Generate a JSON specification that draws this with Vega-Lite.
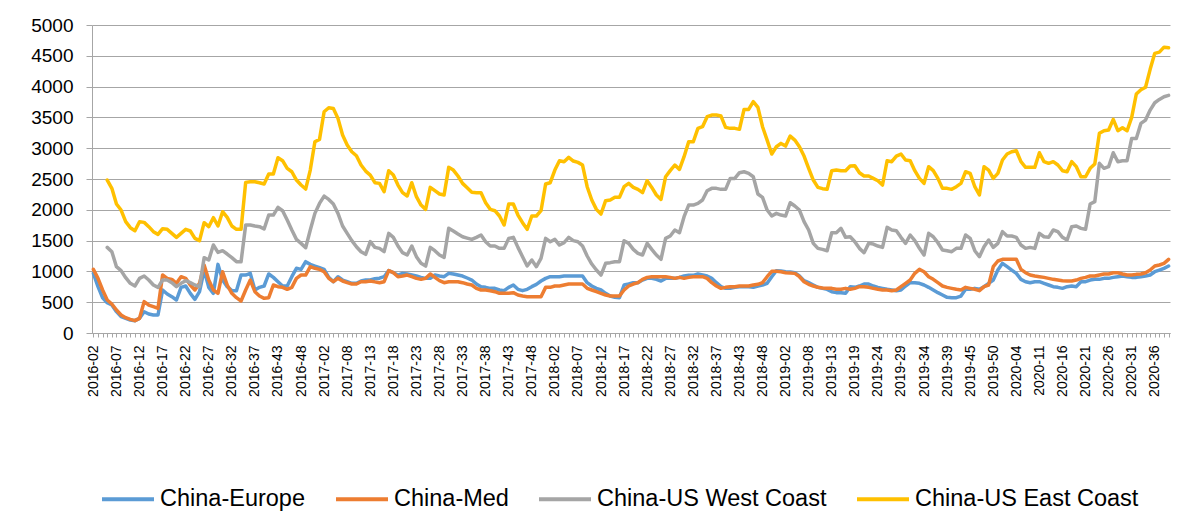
{
"$schema":"https://vega.github.io/schema/vega-lite/v6.json",
"width":1078,"height":308,
"autosize":{"type":"none"},
"padding":{"left":92,"top":25,"right":31,"bottom":197},
"background":"white",
"config":{"view":{"stroke":null},"font":"Liberation Sans"},
"data":{"values":[
{"week":"2016-02","eu":968,"med":1033,"uswc":null,"usec":null},
{"week":"2016-03","eu":752,"med":887,"uswc":null,"usec":null},
{"week":"2016-04","eu":573,"med":698,"uswc":null,"usec":null},
{"week":"2016-05","eu":492,"med":536,"uswc":1390,"usec":2483},
{"week":"2016-06","eu":454,"med":470,"uswc":1320,"usec":2348},
{"week":"2016-07","eu":346,"med":373,"uswc":1077,"usec":2094},
{"week":"2016-08","eu":265,"med":292,"uswc":1012,"usec":1996},
{"week":"2016-09","eu":238,"med":249,"uswc":898,"usec":1807},
{"week":"2016-10","eu":211,"med":222,"uswc":806,"usec":1710},
{"week":"2016-11","eu":200,"med":200,"uswc":763,"usec":1661},
{"week":"2016-12","eu":238,"med":238,"uswc":887,"usec":1807},
{"week":"2016-13","eu":346,"med":509,"uswc":925,"usec":1796},
{"week":"2016-14","eu":308,"med":454,"uswc":860,"usec":1726},
{"week":"2016-15","eu":292,"med":427,"uswc":779,"usec":1645},
{"week":"2016-16","eu":292,"med":400,"uswc":741,"usec":1601},
{"week":"2016-17","eu":698,"med":941,"uswc":860,"usec":1693},
{"week":"2016-18","eu":633,"med":887,"uswc":860,"usec":1683},
{"week":"2016-19","eu":590,"med":871,"uswc":817,"usec":1618},
{"week":"2016-20","eu":536,"med":806,"uswc":752,"usec":1553},
{"week":"2016-21","eu":741,"med":914,"uswc":806,"usec":1618},
{"week":"2016-22","eu":763,"med":887,"uswc":849,"usec":1683},
{"week":"2016-23","eu":644,"med":779,"uswc":817,"usec":1656},
{"week":"2016-24","eu":546,"med":698,"uswc":779,"usec":1536},
{"week":"2016-25","eu":671,"med":806,"uswc":752,"usec":1499},
{"week":"2016-26","eu":1022,"med":1104,"uswc":1223,"usec":1791},
{"week":"2016-27","eu":741,"med":860,"uswc":1185,"usec":1726},
{"week":"2016-28","eu":644,"med":698,"uswc":1428,"usec":1872},
{"week":"2016-29","eu":1114,"med":644,"uswc":1309,"usec":1737},
{"week":"2016-30","eu":860,"med":995,"uswc":1336,"usec":1969},
{"week":"2016-31","eu":752,"med":779,"uswc":1282,"usec":1877},
{"week":"2016-32","eu":687,"med":644,"uswc":1223,"usec":1737},
{"week":"2016-33","eu":687,"med":573,"uswc":1158,"usec":1683},
{"week":"2016-34","eu":941,"med":519,"uswc":1158,"usec":1683},
{"week":"2016-35","eu":941,"med":698,"uswc":1753,"usec":2445},
{"week":"2016-36","eu":968,"med":860,"uswc":1753,"usec":2456},
{"week":"2016-37","eu":698,"med":671,"uswc":1737,"usec":2456},
{"week":"2016-38","eu":741,"med":600,"uswc":1726,"usec":2440},
{"week":"2016-39","eu":763,"med":563,"uswc":1688,"usec":2418},
{"week":"2016-41","eu":958,"med":573,"uswc":1915,"usec":2581},
{"week":"2016-42","eu":903,"med":779,"uswc":1915,"usec":2581},
{"week":"2016-43","eu":833,"med":752,"uswc":2040,"usec":2846},
{"week":"2016-44","eu":763,"med":741,"uswc":1985,"usec":2797},
{"week":"2016-45","eu":763,"med":709,"uswc":1834,"usec":2673},
{"week":"2016-46","eu":914,"med":741,"uswc":1672,"usec":2618},
{"week":"2016-47","eu":1050,"med":887,"uswc":1520,"usec":2483},
{"week":"2016-48","eu":1033,"med":941,"uswc":1455,"usec":2402},
{"week":"2016-49","eu":1158,"med":941,"uswc":1385,"usec":2337},
{"week":"2016-50","eu":1114,"med":1077,"uswc":1672,"usec":2645},
{"week":"2016-51","eu":1087,"med":1050,"uswc":1942,"usec":3105},
{"week":"2016-52","eu":1060,"med":1033,"uswc":2104,"usec":3143},
{"week":"2017-02","eu":1033,"med":995,"uswc":2223,"usec":3592},
{"week":"2017-03","eu":903,"med":887,"uswc":2169,"usec":3657},
{"week":"2017-04","eu":833,"med":833,"uswc":2094,"usec":3646},
{"week":"2017-06","eu":914,"med":887,"uswc":1942,"usec":3484},
{"week":"2017-07","eu":860,"med":844,"uswc":1737,"usec":3214},
{"week":"2017-08","eu":833,"med":817,"uswc":1618,"usec":3051},
{"week":"2017-09","eu":806,"med":795,"uswc":1499,"usec":2943},
{"week":"2017-10","eu":806,"med":795,"uswc":1401,"usec":2878},
{"week":"2017-11","eu":844,"med":833,"uswc":1320,"usec":2727},
{"week":"2017-12","eu":860,"med":833,"uswc":1277,"usec":2629},
{"week":"2017-13","eu":860,"med":845,"uswc":1483,"usec":2564},
{"week":"2017-14","eu":880,"med":830,"uswc":1390,"usec":2440},
{"week":"2017-15","eu":890,"med":817,"uswc":1374,"usec":2429},
{"week":"2017-16","eu":914,"med":833,"uswc":1320,"usec":2294},
{"week":"2017-17","eu":1012,"med":1012,"uswc":1618,"usec":2635},
{"week":"2017-18","eu":979,"med":979,"uswc":1553,"usec":2564},
{"week":"2017-19","eu":941,"med":914,"uswc":1412,"usec":2402},
{"week":"2017-20","eu":968,"med":925,"uswc":1304,"usec":2278},
{"week":"2017-21","eu":958,"med":941,"uswc":1266,"usec":2224},
{"week":"2017-22","eu":941,"med":914,"uswc":1412,"usec":2440},
{"week":"2017-23","eu":925,"med":887,"uswc":1239,"usec":2213},
{"week":"2017-24","eu":903,"med":871,"uswc":1131,"usec":2077},
{"week":"2017-25","eu":887,"med":887,"uswc":1087,"usec":2007},
{"week":"2017-26","eu":887,"med":958,"uswc":1390,"usec":2364},
{"week":"2017-27","eu":941,"med":903,"uswc":1336,"usec":2310},
{"week":"2017-28","eu":925,"med":849,"uswc":1266,"usec":2256},
{"week":"2017-29","eu":914,"med":817,"uswc":1228,"usec":2240},
{"week":"2017-30","eu":968,"med":833,"uswc":1699,"usec":2689},
{"week":"2017-31","eu":958,"med":833,"uswc":1655,"usec":2645},
{"week":"2017-32","eu":941,"med":833,"uswc":1607,"usec":2548},
{"week":"2017-33","eu":925,"med":817,"uswc":1563,"usec":2429},
{"week":"2017-34","eu":893,"med":795,"uswc":1541,"usec":2356},
{"week":"2017-35","eu":860,"med":779,"uswc":1520,"usec":2283},
{"week":"2017-36","eu":795,"med":725,"uswc":1553,"usec":2278},
{"week":"2017-37","eu":752,"med":698,"uswc":1591,"usec":2278},
{"week":"2017-38","eu":741,"med":698,"uswc":1482,"usec":2115},
{"week":"2017-39","eu":725,"med":687,"uswc":1412,"usec":2007},
{"week":"2017-40","eu":725,"med":671,"uswc":1412,"usec":1985},
{"week":"2017-41","eu":698,"med":644,"uswc":1374,"usec":1899},
{"week":"2017-42","eu":687,"med":644,"uswc":1374,"usec":1753},
{"week":"2017-43","eu":741,"med":644,"uswc":1536,"usec":2094},
{"week":"2017-44","eu":779,"med":655,"uswc":1553,"usec":2094},
{"week":"2017-45","eu":709,"med":617,"uswc":1390,"usec":1915},
{"week":"2017-46","eu":687,"med":600,"uswc":1239,"usec":1791},
{"week":"2017-47","eu":709,"med":590,"uswc":1087,"usec":1683},
{"week":"2017-48","eu":752,"med":590,"uswc":1185,"usec":1899},
{"week":"2017-49","eu":790,"med":590,"uswc":1077,"usec":1899},
{"week":"2017-50","eu":844,"med":590,"uswc":1212,"usec":1985},
{"week":"2017-51","eu":887,"med":741,"uswc":1536,"usec":2418},
{"week":"2017-52","eu":914,"med":741,"uswc":1482,"usec":2440},
{"week":"2018-02","eu":914,"med":763,"uswc":1520,"usec":2645},
{"week":"2018-03","eu":914,"med":763,"uswc":1428,"usec":2797},
{"week":"2018-04","eu":925,"med":779,"uswc":1466,"usec":2781},
{"week":"2018-05","eu":925,"med":795,"uswc":1553,"usec":2851},
{"week":"2018-06","eu":925,"med":795,"uswc":1499,"usec":2792},
{"week":"2018-07","eu":925,"med":795,"uswc":1482,"usec":2770},
{"week":"2018-08","eu":925,"med":795,"uswc":1412,"usec":2727},
{"week":"2018-09","eu":817,"med":725,"uswc":1250,"usec":2375},
{"week":"2018-10","eu":763,"med":698,"uswc":1120,"usec":2159},
{"week":"2018-11","eu":725,"med":671,"uswc":1022,"usec":2007},
{"week":"2018-12","eu":698,"med":644,"uswc":941,"usec":1931},
{"week":"2018-13","eu":644,"med":617,"uswc":1131,"usec":2148},
{"week":"2018-14","eu":600,"med":600,"uswc":1142,"usec":2159},
{"week":"2018-15","eu":579,"med":600,"uswc":1158,"usec":2202},
{"week":"2018-16","eu":573,"med":600,"uswc":1158,"usec":2202},
{"week":"2018-17","eu":779,"med":698,"uswc":1499,"usec":2375},
{"week":"2018-18","eu":795,"med":763,"uswc":1455,"usec":2429},
{"week":"2018-19","eu":817,"med":795,"uswc":1358,"usec":2364},
{"week":"2018-20","eu":817,"med":817,"uswc":1293,"usec":2332},
{"week":"2018-21","eu":860,"med":871,"uswc":1266,"usec":2278},
{"week":"2018-22","eu":887,"med":903,"uswc":1455,"usec":2472},
{"week":"2018-23","eu":887,"med":914,"uswc":1358,"usec":2364},
{"week":"2018-24","eu":871,"med":914,"uswc":1266,"usec":2240},
{"week":"2018-25","eu":844,"med":914,"uswc":1196,"usec":2169},
{"week":"2018-26","eu":887,"med":914,"uswc":1536,"usec":2537},
{"week":"2018-27","eu":887,"med":903,"uswc":1574,"usec":2635},
{"week":"2018-28","eu":887,"med":887,"uswc":1672,"usec":2727},
{"week":"2018-29","eu":903,"med":903,"uswc":1628,"usec":2656},
{"week":"2018-30","eu":925,"med":887,"uswc":1888,"usec":2862},
{"week":"2018-31","eu":936,"med":903,"uswc":2077,"usec":3105},
{"week":"2018-32","eu":936,"med":914,"uswc":2077,"usec":3105},
{"week":"2018-33","eu":958,"med":914,"uswc":2104,"usec":3322},
{"week":"2018-34","eu":941,"med":914,"uswc":2159,"usec":3349},
{"week":"2018-35","eu":925,"med":887,"uswc":2310,"usec":3511},
{"week":"2018-36","eu":887,"med":817,"uswc":2348,"usec":3538},
{"week":"2018-37","eu":817,"med":763,"uswc":2348,"usec":3538},
{"week":"2018-38","eu":752,"med":725,"uswc":2332,"usec":3522},
{"week":"2018-39","eu":725,"med":741,"uswc":2332,"usec":3338},
{"week":"2018-41","eu":725,"med":752,"uswc":2510,"usec":3322},
{"week":"2018-42","eu":741,"med":752,"uswc":2510,"usec":3322},
{"week":"2018-43","eu":752,"med":763,"uswc":2602,"usec":3306},
{"week":"2018-44","eu":752,"med":763,"uswc":2618,"usec":3630},
{"week":"2018-45","eu":752,"med":763,"uswc":2591,"usec":3630},
{"week":"2018-46","eu":741,"med":779,"uswc":2537,"usec":3755},
{"week":"2018-47","eu":763,"med":790,"uswc":2256,"usec":3663},
{"week":"2018-48","eu":779,"med":817,"uswc":2202,"usec":3349},
{"week":"2018-49","eu":806,"med":914,"uswc":1996,"usec":3132},
{"week":"2018-50","eu":914,"med":1001,"uswc":1899,"usec":2905},
{"week":"2018-51","eu":1012,"med":1001,"uswc":1942,"usec":3024},
{"week":"2018-52","eu":1006,"med":995,"uswc":1915,"usec":3078},
{"week":"2019-02","eu":995,"med":979,"uswc":1899,"usec":3035},
{"week":"2019-03","eu":990,"med":974,"uswc":2115,"usec":3197},
{"week":"2019-04","eu":979,"med":968,"uswc":2061,"usec":3132},
{"week":"2019-05","eu":925,"med":914,"uswc":1996,"usec":3024},
{"week":"2019-07","eu":849,"med":833,"uswc":1807,"usec":2873},
{"week":"2019-08","eu":817,"med":790,"uswc":1672,"usec":2673},
{"week":"2019-09","eu":779,"med":763,"uswc":1455,"usec":2483},
{"week":"2019-10","eu":741,"med":741,"uswc":1374,"usec":2364},
{"week":"2019-11","eu":725,"med":730,"uswc":1358,"usec":2343},
{"week":"2019-12","eu":709,"med":725,"uswc":1336,"usec":2332},
{"week":"2019-13","eu":671,"med":725,"uswc":1628,"usec":2635},
{"week":"2019-14","eu":655,"med":709,"uswc":1628,"usec":2645},
{"week":"2019-15","eu":655,"med":709,"uswc":1699,"usec":2635},
{"week":"2019-16","eu":644,"med":725,"uswc":1553,"usec":2635},
{"week":"2019-17","eu":752,"med":709,"uswc":1563,"usec":2710},
{"week":"2019-19","eu":741,"med":725,"uswc":1482,"usec":2716},
{"week":"2019-20","eu":763,"med":752,"uswc":1374,"usec":2602},
{"week":"2019-21","eu":795,"med":752,"uswc":1304,"usec":2548},
{"week":"2019-22","eu":795,"med":741,"uswc":1455,"usec":2548},
{"week":"2019-23","eu":763,"med":725,"uswc":1444,"usec":2510},
{"week":"2019-24","eu":741,"med":709,"uswc":1412,"usec":2472},
{"week":"2019-25","eu":725,"med":698,"uswc":1390,"usec":2402},
{"week":"2019-26","eu":709,"med":698,"uswc":1715,"usec":2797},
{"week":"2019-27","eu":698,"med":687,"uswc":1672,"usec":2781},
{"week":"2019-28","eu":687,"med":698,"uswc":1661,"usec":2873},
{"week":"2019-29","eu":698,"med":752,"uswc":1553,"usec":2905},
{"week":"2019-30","eu":763,"med":806,"uswc":1455,"usec":2808},
{"week":"2019-31","eu":817,"med":860,"uswc":1591,"usec":2797},
{"week":"2019-32","eu":817,"med":968,"uswc":1499,"usec":2635},
{"week":"2019-33","eu":806,"med":1033,"uswc":1374,"usec":2510},
{"week":"2019-34","eu":779,"med":995,"uswc":1266,"usec":2429},
{"week":"2019-35","eu":741,"med":914,"uswc":1618,"usec":2700},
{"week":"2019-36","eu":698,"med":871,"uswc":1563,"usec":2635},
{"week":"2019-37","eu":655,"med":817,"uswc":1466,"usec":2510},
{"week":"2019-38","eu":617,"med":763,"uswc":1347,"usec":2348},
{"week":"2019-39","eu":579,"med":741,"uswc":1336,"usec":2348},
{"week":"2019-41","eu":573,"med":725,"uswc":1320,"usec":2332},
{"week":"2019-42","eu":573,"med":709,"uswc":1374,"usec":2375},
{"week":"2019-43","eu":600,"med":698,"uswc":1374,"usec":2429},
{"week":"2019-44","eu":709,"med":741,"uswc":1591,"usec":2618},
{"week":"2019-45","eu":709,"med":725,"uswc":1536,"usec":2591},
{"week":"2019-46","eu":725,"med":709,"uswc":1336,"usec":2375},
{"week":"2019-47","eu":709,"med":687,"uswc":1239,"usec":2240},
{"week":"2019-48","eu":752,"med":752,"uswc":1401,"usec":2700},
{"week":"2019-49","eu":806,"med":779,"uswc":1509,"usec":2645},
{"week":"2019-50","eu":860,"med":1077,"uswc":1390,"usec":2510},
{"week":"2019-51","eu":1022,"med":1169,"uswc":1455,"usec":2591},
{"week":"2019-52","eu":1131,"med":1196,"uswc":1645,"usec":2808},
{"week":"2020-02","eu":1077,"med":1196,"uswc":1574,"usec":2905},
{"week":"2020-03","eu":1022,"med":1196,"uswc":1574,"usec":2943},
{"week":"2020-04","eu":968,"med":1196,"uswc":1553,"usec":2959},
{"week":"2020-07","eu":871,"med":1033,"uswc":1428,"usec":2781},
{"week":"2020-08","eu":833,"med":979,"uswc":1374,"usec":2689},
{"week":"2020-09","eu":817,"med":941,"uswc":1390,"usec":2689},
{"week":"2020-10","eu":833,"med":925,"uswc":1374,"usec":2689},
{"week":"2020-11","eu":833,"med":914,"uswc":1618,"usec":2927},
{"week":"2020-12","eu":806,"med":903,"uswc":1563,"usec":2781},
{"week":"2020-13","eu":779,"med":887,"uswc":1553,"usec":2754},
{"week":"2020-14","eu":752,"med":871,"uswc":1672,"usec":2781},
{"week":"2020-15","eu":741,"med":860,"uswc":1645,"usec":2727},
{"week":"2020-16","eu":725,"med":849,"uswc":1553,"usec":2635},
{"week":"2020-17","eu":752,"med":844,"uswc":1509,"usec":2618},
{"week":"2020-18","eu":763,"med":844,"uswc":1726,"usec":2781},
{"week":"2020-19","eu":752,"med":860,"uswc":1737,"usec":2700},
{"week":"2020-20","eu":833,"med":887,"uswc":1699,"usec":2537},
{"week":"2020-21","eu":833,"med":903,"uswc":1683,"usec":2537},
{"week":"2020-22","eu":860,"med":925,"uswc":2094,"usec":2673},
{"week":"2020-23","eu":871,"med":925,"uswc":2132,"usec":2743},
{"week":"2020-24","eu":871,"med":941,"uswc":2754,"usec":3241},
{"week":"2020-25","eu":887,"med":958,"uswc":2673,"usec":3284},
{"week":"2020-26","eu":887,"med":958,"uswc":2700,"usec":3295},
{"week":"2020-27","eu":903,"med":979,"uswc":2927,"usec":3468},
{"week":"2020-28","eu":914,"med":979,"uswc":2781,"usec":3284},
{"week":"2020-29","eu":925,"med":958,"uswc":2797,"usec":3333},
{"week":"2020-30","eu":914,"med":941,"uswc":2797,"usec":3284},
{"week":"2020-31","eu":903,"med":941,"uswc":3159,"usec":3500},
{"week":"2020-32","eu":903,"med":952,"uswc":3159,"usec":3880},
{"week":"2020-33","eu":914,"med":958,"uswc":3403,"usec":3950},
{"week":"2020-34","eu":925,"med":979,"uswc":3457,"usec":3990},
{"week":"2020-35","eu":941,"med":1022,"uswc":3619,"usec":4280},
{"week":"2020-36","eu":995,"med":1087,"uswc":3738,"usec":4540},
{"week":"2020-37","eu":1022,"med":1104,"uswc":3792,"usec":4560},
{"week":"2020-38","eu":1050,"med":1131,"uswc":3836,"usec":4640},
{"week":"2020-39","eu":1087,"med":1196,"uswc":3857,"usec":4630}
]},
"transform":[{"fold":["eu","med","uswc","usec"],"as":["series","rate"]}],
"mark":{"type":"line","strokeWidth":3.5,"strokeJoin":"round","strokeCap":"round"},
"encoding":{
"x":{"field":"week","type":"ordinal","sort":null,"scale":{"type":"point","padding":0.3},
"axis":{"title":null,"labelAngle":-90,"labelOverlap":false,"labelFlush":false,"labelBound":false,
"labelExpr":"indexof(['2016-02','2016-07','2016-12','2016-17','2016-22','2016-27','2016-32','2016-37','2016-43','2016-48','2017-02','2017-08','2017-13','2017-18','2017-23','2017-28','2017-33','2017-38','2017-43','2017-48','2018-02','2018-07','2018-12','2018-17','2018-22','2018-27','2018-32','2018-37','2018-43','2018-48','2019-02','2019-08','2019-13','2019-19','2019-24','2019-29','2019-34','2019-39','2019-45','2019-50','2020-04','2020-11','2020-16','2020-21','2020-26','2020-31','2020-36'], datum.value) >= 0 ? datum.label : ''",
"labelFont":"Liberation Sans","labelFontSize":14,"labelColor":"#000000","labelPadding":8,
"tickSize":4,"tickColor":"#a6a6a6","domainColor":"#a6a6a6","grid":false}},
"y":{"field":"rate","type":"quantitative","scale":{"domain":[0,5000],"nice":false},
"axis":{"title":null,"values":[0,500,1000,1500,2000,2500,3000,3500,4000,4500,5000],"format":"d",
"labelFont":"Liberation Sans","labelFontSize":19,"labelColor":"#000000","labelPadding":13,
"tickSize":6,"tickColor":"#a6a6a6","domainColor":"#a6a6a6","grid":true,"gridColor":"#a6a6a6"}},
"color":{"field":"series","type":"nominal","sort":["eu","med","uswc","usec"],
"scale":{"domain":["eu","med","uswc","usec"],"range":["#5B9BD5","#ED7D31","#A5A5A5","#FFC000"]},
"legend":{"orient":"none","legendX":8,"legendY":446,"direction":"horizontal","title":null,
"symbolType":"stroke","symbolStrokeWidth":4,"symbolSize":2704,
"labelFont":"Liberation Sans","labelFontSize":23.5,"labelColor":"#000000","labelOffset":4,
"columnPadding":22,"labelLimit":400,"padding":0,
"labelExpr":"datum.label == 'eu' ? 'China-Europe' : datum.label == 'med' ? 'China-Med' : datum.label == 'uswc' ? 'China-US West Coast' : 'China-US East Coast'"}}
}
}
